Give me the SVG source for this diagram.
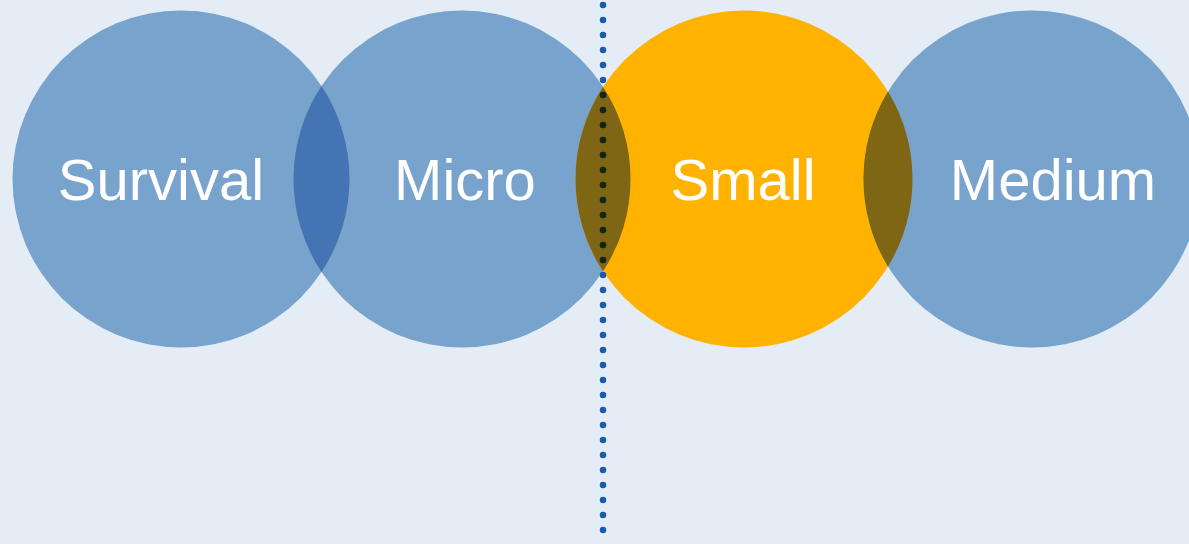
<svg xmlns="http://www.w3.org/2000/svg" width="1189" height="544" viewBox="0 0 1189 544">
<style>
.circ{fill:#77A3CD}
.hl{fill:#FFB300}
.lb{fill:#4474B3}
.lo{fill:#7F6614}
.lbl{font-family:"Liberation Sans",Arial,sans-serif;font-size:58px;fill:#FFFFFF;text-anchor:middle}
.dots{fill:none;stroke-width:6.5;stroke-linecap:round;stroke-dasharray:0 15}
</style>
<defs>
<clipPath id="lensMS"><path d="M603 86.7 A168.5 168.5 0 0 1 603 271.3 A168.5 168.5 0 0 1 603 86.7 Z"/></clipPath>
</defs>
<rect width="1189" height="544" fill="#E4ECF5"/>
<g id="survival">
<circle class="circ" cx="181" cy="179" r="168.5"/>
</g>
<g id="micro">
<circle class="circ" cx="462" cy="179" r="168.5"/>
</g>
<g id="small">
<circle class="hl" cx="744" cy="179" r="168.5"/>
</g>
<g id="medium">
<circle class="circ" cx="1032" cy="179" r="168.5"/>
</g>
<g id="overlaps">
<path class="lb" d="M321.5 86 A168.5 168.5 0 0 1 321.5 272 A168.5 168.5 0 0 1 321.5 86 Z"/>
<path class="lo" d="M603 86.7 A168.5 168.5 0 0 1 603 271.3 A168.5 168.5 0 0 1 603 86.7 Z"/>
<path class="lo" d="M888 91.5 A168.5 168.5 0 0 1 888 266.5 A168.5 168.5 0 0 1 888 91.5 Z"/>
</g>
<g id="connectors">
<line class="dots" x1="603" y1="5" x2="603" y2="544" stroke="#1A5CAB"/>
<line class="dots" x1="603" y1="5" x2="603" y2="544" stroke="#15260C" clip-path="url(#lensMS)"/>
</g>
<g id="labels">
<text class="lbl" x="161" y="200">Survival</text>
<text class="lbl" x="465" y="200">Micro</text>
<text class="lbl" x="743" y="200">Small</text>
<text class="lbl" x="1053" y="200">Medium</text>
</g>
</svg>
